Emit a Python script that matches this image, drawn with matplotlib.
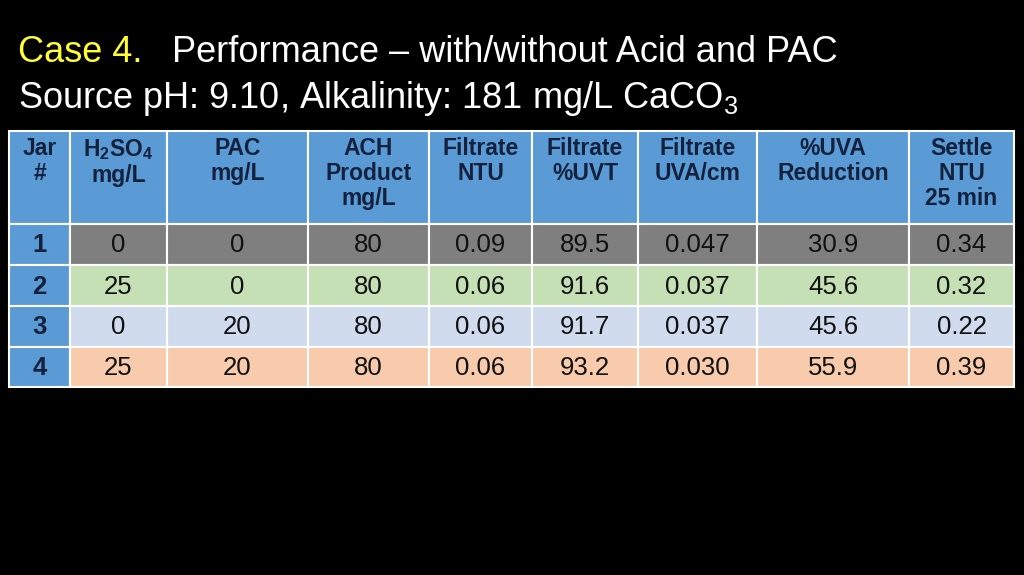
import matplotlib
matplotlib.use("Agg")
import matplotlib.pyplot as plt
from matplotlib.patches import Rectangle

plt.rcParams['font.family'] = ['Liberation Sans', 'DejaVu Sans']
plt.rcParams['mathtext.fontset'] = 'custom'
plt.rcParams['mathtext.rm'] = 'Liberation Sans'
plt.rcParams['mathtext.bf'] = 'Liberation Sans:bold'
plt.rcParams['mathtext.it'] = 'Liberation Sans:italic'

headers = ["Jar\n#", r"$\mathbf{H_2SO_4}$" + "\nmg/L", "PAC\nmg/L", "ACH\nProduct\nmg/L",
           "Filtrate\nNTU", "Filtrate\n%UVT", "Filtrate\nUVA/cm", "%UVA\nReduction", "Settle\nNTU\n25 min"]
jars = ["1", "2", "3", "4"]
h2so4 = ["0", "25", "0", "25"]
pac = ["0", "0", "20", "20"]
ach = ["80", "80", "80", "80"]
f_ntu = ["0.09", "0.06", "0.06", "0.06"]
f_uvt = ["89.5", "91.6", "91.7", "93.2"]
f_uva = ["0.047", "0.037", "0.037", "0.030"]
uva_red = ["30.9", "45.6", "45.6", "55.9"]
settle = ["0.34", "0.32", "0.22", "0.39"]
rows = list(zip(jars, h2so4, pac, ach, f_ntu, f_uvt, f_uva, uva_red, settle))

xs = [9, 70, 167, 308, 429, 532, 638, 757, 909, 1014]
ys = [131, 224, 265, 306, 347, 387]
row_colors = ["#7F7F7F", "#C5E0B4", "#D0DCEE", "#F8CBAD"]
blue = "#5B9BD5"
navy = "#14213D"

fig = plt.figure(figsize=(10.24, 5.75), dpi=100, facecolor="black")
ax = fig.add_axes([0, 0, 1, 1])
ax.set_xlim(0, 1024); ax.set_ylim(575, 0); ax.axis("off")
ax.set_facecolor("black")

# title
ax.text(18, 52, "Case 4.", color="#FFFF33", fontsize=26, va="center", ha="left")
ax.text(172, 52, "Performance \u2013 with/without Acid and PAC", color="white", fontsize=26, va="center", ha="left")
ax.text(18, 98, "Source pH: 9.10, Alkalinity: 181 mg/L CaCO$_3$", color="white", fontsize=26, va="center", ha="left")

# header
for c in range(9):
    ax.add_patch(Rectangle((xs[c], ys[0]), xs[c+1]-xs[c], ys[1]-ys[0], facecolor=blue, edgecolor="white", lw=1.5))
    ax.text((xs[c]+xs[c+1])/2, ys[0]+6, headers[c], ha="center", va="top", fontsize=16.5,
            fontweight="bold", color=navy, linespacing=1.1)
# body
for r, row in enumerate(rows):
    for c in range(9):
        fc = blue if c == 0 else row_colors[r]
        ax.add_patch(Rectangle((xs[c], ys[r+1]), xs[c+1]-xs[c], ys[r+2]-ys[r+1], facecolor=fc, edgecolor="white", lw=1.5))
        ax.text((xs[c]+xs[c+1])/2, (ys[r+1]+ys[r+2])/2 + 1, row[c], ha="center", va="center",
                fontsize=18.5, fontweight="bold" if c == 0 else "normal",
                color=navy if c == 0 else "#111111")

fig.savefig("out.png", dpi=100, facecolor="black")
